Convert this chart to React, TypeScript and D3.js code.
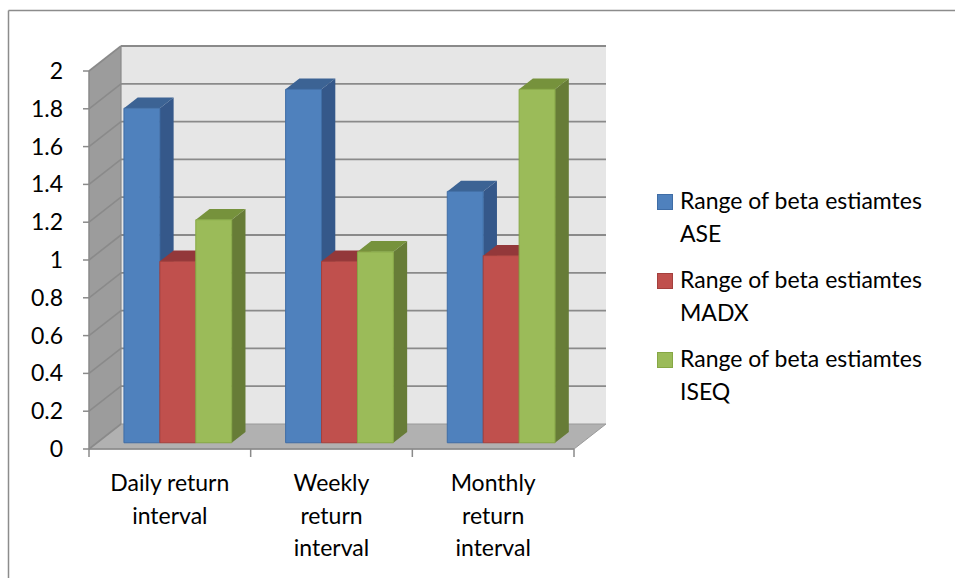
import React from "react";
import * as d3 from "d3";

// Range of beta estimates by return interval, one series per market
const categories = ["Daily return interval", "Weekly return interval", "Monthly return interval"];
const categoryLines = [["Daily return", "interval"], ["Weekly", "return", "interval"], ["Monthly", "return", "interval"]];
const seriesNames = ["Range of beta estiamtes ASE", "Range of beta estiamtes MADX", "Range of beta estiamtes ISEQ"];
const legendLines = [["Range of beta estiamtes", "ASE"], ["Range of beta estiamtes", "MADX"], ["Range of beta estiamtes", "ISEQ"]];
const aseValues = [1.77, 1.87, 1.33];
const madxValues = [0.96, 0.96, 0.99];
const iseqValues = [1.18, 1.01, 1.87];
const yTicks = [0, 0.2, 0.4, 0.6, 0.8, 1, 1.2, 1.4, 1.6, 1.8, 2];

const series = [aseValues, madxValues, iseqValues];
const faceColors = [
  { front: "#4F81BD", top: "#3C6394", side: "#35588A", stroke: "#3F6DA6" },
  { front: "#C0504D", top: "#93383A", side: "#8C3A38", stroke: "#A4403D" },
  { front: "#9BBB59", top: "#76923C", side: "#677C37", stroke: "#86A745" },
];

const W = 955;
const H = 578;
const FONT = "Lato, 'Open Sans', sans-serif";
const FS = 23;

// oblique depth vector for the 3-D walls
const DX = 32;
const DY = -25;
const F0 = 0.25; // depth where bar fronts sit
const F1 = 0.68; // depth where bar backs sit

export default function App() {
  const y = d3.scaleLinear().domain([0, 2]).range([449, 71]);
  const x = d3.scaleBand<string>().domain(categories).range([89, 574]).padding(0);
  const band = x.bandwidth();
  const barW = band / 4.5;

  const p = (px: number, py: number, f: number) => [px + f * DX, py + f * DY];
  const poly = (pts: number[][]) => pts.map((q) => q.join(",")).join(" ");

  const y0 = y(0);
  const x0 = x.range()[0];
  const x1 = x.range()[1];

  return (
    <svg width={W} height={H} style={{ position: "absolute", left: 0, top: 0, background: "#fff" }}>
      {/* outer frame */}
      <line x1={8.5} y1={10.5} x2={W} y2={10.5} stroke="#8C8C8C" strokeWidth={1.5} />
      <line x1={8.5} y1={10.5} x2={8.5} y2={H} stroke="#8C8C8C" strokeWidth={1.5} />

      {/* side wall */}
      <polygon points={poly([p(x0, y0, 0), p(x0, y(2), 0), p(x0, y(2), 1), p(x0, y0, 1)])} fill="#9C9C9C" />
      {/* back wall */}
      <polygon points={poly([p(x0, y0, 1), p(x0, y(2), 1), p(x1, y(2), 1), p(x1, y0, 1)])} fill="#E6E6E6" />
      {/* floor */}
      <polygon points={poly([p(x0, y0, 0), p(x1, y0, 0), p(x1, y0, 1), p(x0, y0, 1)])} fill="#B1B1B1" stroke="#9A9A9A" strokeWidth={1} />

      {/* gridlines on side and back walls */}
      {yTicks.map((t) => (
        <g key={"g" + t}>
          <line
            x1={p(x0, y(t), 0)[0]} y1={p(x0, y(t), 0)[1]}
            x2={p(x0, y(t), 1)[0]} y2={p(x0, y(t), 1)[1]}
            stroke="#8A8A8A" strokeWidth={1.6}
          />
          {t > 0 && (
            <line
              x1={p(x0, y(t), 1)[0]} y1={p(x0, y(t), 1)[1]}
              x2={p(x1, y(t), 1)[0]} y2={p(x1, y(t), 1)[1]}
              stroke="#8A8A8A" strokeWidth={1.8}
            />
          )}
        </g>
      ))}
      <line x1={p(x0, y0, 1)[0]} y1={p(x0, y0, 1)[1]} x2={p(x0, y(2), 1)[0]} y2={p(x0, y(2), 1)[1]} stroke="#8A8A8A" strokeWidth={1.2} />

      {/* bars */}
      {categories.map((c, ci) => {
        const bx = (x(c) as number) + 0.75 * barW;
        return (
          <g key={c}>
            {series.map((vals, si) => {
              const xl = bx + si * barW;
              const xr = xl + barW;
              const yt = y(vals[ci]);
              const col = faceColors[si];
              return (
                <g key={si}>
                  <polygon points={poly([p(xr, yt, F0), p(xr, y0, F0), p(xr, y0, F1), p(xr, yt, F1)])} fill={col.side} />
                  <polygon points={poly([p(xl, yt, F0), p(xr, yt, F0), p(xr, yt, F1), p(xl, yt, F1)])} fill={col.top} />
                  <polygon
                    points={poly([p(xl, yt, F0), p(xr, yt, F0), p(xr, y0, F0), p(xl, y0, F0)])}
                    fill={col.front} stroke={col.stroke} strokeWidth={1}
                  />
                </g>
              );
            })}
          </g>
        );
      })}

      {/* value axis */}
      <line x1={x0} y1={y(2)} x2={x0} y2={y0} stroke="#8A8A8A" strokeWidth={1.5} />
      {yTicks.map((t) => (
        <g key={"t" + t}>
          <line x1={x0 - 6} y1={y(t)} x2={x0} y2={y(t)} stroke="#8A8A8A" strokeWidth={1.5} />
          <text x={63} y={y(t) + 8} textAnchor="end" fontFamily={FONT} fontSize={FS} fill="#000">
            {d3.format("~g")(t)}
          </text>
        </g>
      ))}

      {/* category axis */}
      <line x1={x0} y1={y0} x2={x1} y2={y0} stroke="#8A8A8A" strokeWidth={1.5} />
      {[...categories.map((c) => x(c) as number), x1].map((bx, i) => (
        <line key={"ct" + i} x1={bx} y1={y0} x2={bx} y2={y0 + 8} stroke="#8A8A8A" strokeWidth={1.5} />
      ))}
      {categories.map((c, ci) => (
        <text key={"cl" + c} textAnchor="middle" fontFamily={FONT} fontSize={FS} fill="#000">
          {categoryLines[ci].map((ln, li) => (
            <tspan key={li} x={(x(c) as number) + band / 2} y={491 + li * 32.5}>
              {ln}
            </tspan>
          ))}
        </text>
      ))}

      {/* legend */}
      {seriesNames.map((name, si) => {
        const top = 194 + si * 79;
        return (
          <g key={name}>
            <rect x={657.5} y={top + 0.5} width={15} height={15} fill={faceColors[si].front} stroke={faceColors[si].stroke} strokeWidth={1} />
            <text fontFamily={FONT} fontSize={FS} fill="#000">
              {legendLines[si].map((ln, li) => (
                <tspan key={li} x={680} y={top + 14.5 + li * 33.4}>
                  {ln}
                </tspan>
              ))}
            </text>
          </g>
        );
      })}
    </svg>
  );
}
